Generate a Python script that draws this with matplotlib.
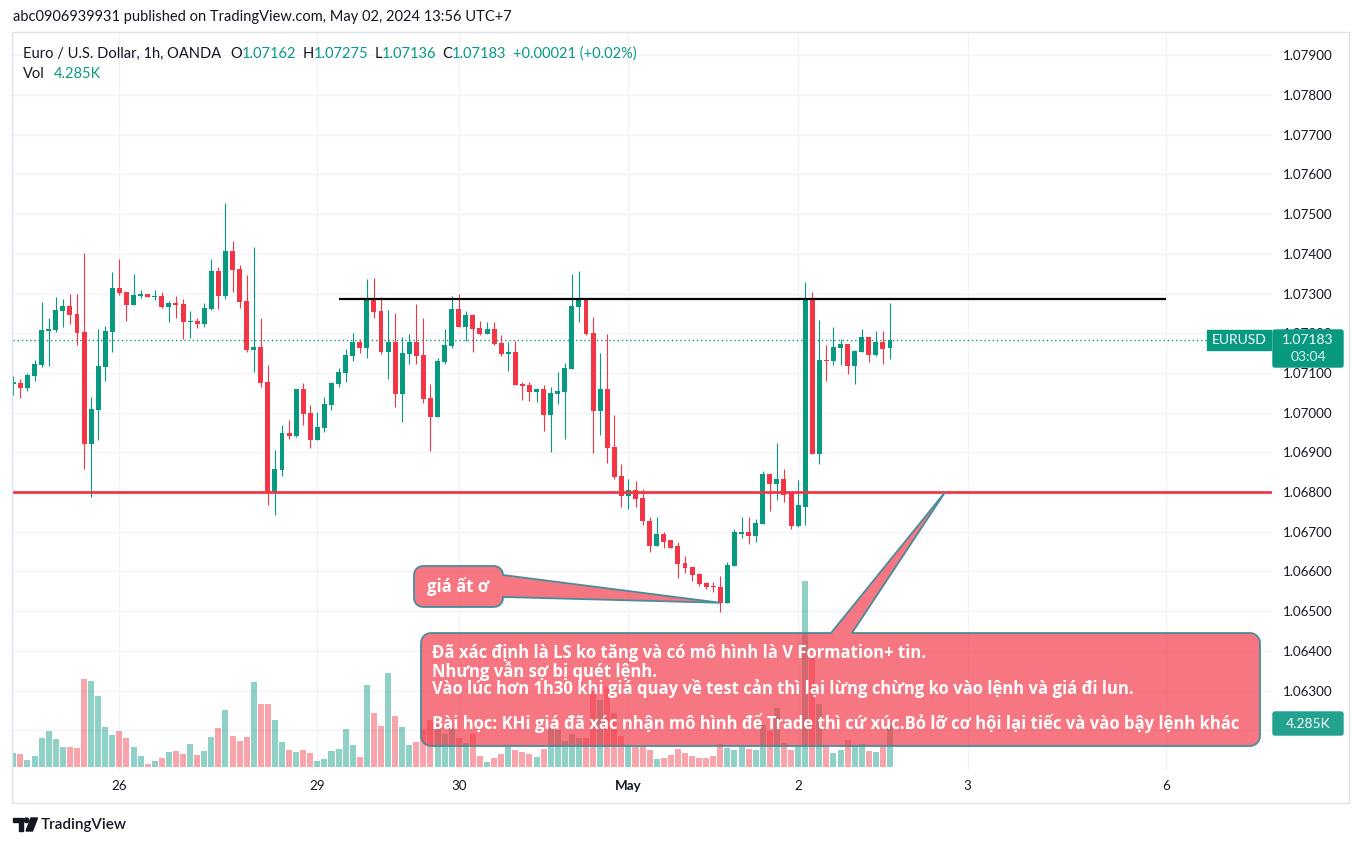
import matplotlib
matplotlib.use('Agg')
import matplotlib.pyplot as plt
from matplotlib.patches import Polygon, Rectangle, FancyBboxPatch, Circle
import numpy as np

# EUR/USD 1h candles (OANDA), Apr 25 -> May 2 2024
opens = [1.07073, 1.07074, 1.07063, 1.07093, 1.07120, 1.07206, 1.07208, 1.07256, 1.07268, 1.07248,
         1.07203, 1.06921, 1.07007, 1.07115, 1.07203, 1.07313, 1.07303, 1.07270, 1.07293, 1.07300,
         1.07291, 1.07293, 1.07265, 1.07275, 1.07273, 1.07228, 1.07230, 1.07223, 1.07260, 1.07356,
         1.07293, 1.07408, 1.07361, 1.07280, 1.07157, 1.07165, 1.07077, 1.06801, 1.06856, 1.06949,
         1.06941, 1.07059, 1.06999, 1.06931, 1.06962, 1.07019, 1.07072, 1.07100, 1.07142, 1.07177,
         1.07162, 1.07288, 1.07255, 1.07152, 1.07177, 1.07047, 1.07147, 1.07177, 1.07145, 1.07037,
         1.06989, 1.07127, 1.07167, 1.07260, 1.07215, 1.07245, 1.07213, 1.07197, 1.07210, 1.07175,
         1.07147, 1.07152, 1.07072, 1.07069, 1.07052, 1.07059, 1.06994, 1.07047, 1.07052, 1.07110,
         1.07265, 1.07283, 1.07200, 1.07004, 1.07059, 1.06914, 1.06841, 1.06791, 1.06806, 1.06786,
         1.06728, 1.06663, 1.06693, 1.06678, 1.06663, 1.06620, 1.06610, 1.06593, 1.06571, 1.06562,
         1.06561, 1.06521, 1.06613, 1.06695, 1.06700, 1.06690, 1.06720, 1.06846, 1.06821, 1.06833,
         1.06798, 1.06715, 1.06763, 1.07283, 1.06895, 1.07132, 1.07130, 1.07162, 1.07172, 1.07117,
         1.07152, 1.07190, 1.07145, 1.07177, 1.07162]
highs = [1.07092, 1.07085, 1.07101, 1.07132, 1.07278, 1.07238, 1.07290, 1.07285, 1.07298, 1.07300,
         1.07401, 1.07039, 1.07210, 1.07218, 1.07353, 1.07388, 1.07303, 1.07348, 1.07310, 1.07300,
         1.07308, 1.07305, 1.07280, 1.07293, 1.07285, 1.07255, 1.07238, 1.07275, 1.07388, 1.07368,
         1.07529, 1.07433, 1.07371, 1.07346, 1.07416, 1.07238, 1.07120, 1.06906, 1.06969, 1.06982,
         1.07059, 1.07074, 1.07019, 1.07002, 1.07039, 1.07077, 1.07112, 1.07160, 1.07200, 1.07185,
         1.07336, 1.07338, 1.07290, 1.07258, 1.07250, 1.07190, 1.07197, 1.07273, 1.07238, 1.07072,
         1.07137, 1.07210, 1.07293, 1.07298, 1.07255, 1.07248, 1.07230, 1.07228, 1.07228, 1.07195,
         1.07177, 1.07180, 1.07077, 1.07077, 1.07062, 1.07069, 1.07064, 1.07102, 1.07125, 1.07348,
         1.07356, 1.07285, 1.07240, 1.07150, 1.07197, 1.06994, 1.06871, 1.06833, 1.06828, 1.06808,
         1.06738, 1.06738, 1.06700, 1.06680, 1.06675, 1.06638, 1.06610, 1.06596, 1.06573, 1.06573,
         1.06588, 1.06623, 1.06708, 1.06738, 1.06738, 1.06731, 1.06854, 1.06846, 1.06924, 1.06859,
         1.06798, 1.06831, 1.07328, 1.07305, 1.07233, 1.07170, 1.07215, 1.07185, 1.07172, 1.07157,
         1.07210, 1.07190, 1.07205, 1.07205, 1.07275]
lows = [1.07045, 1.07038, 1.07054, 1.07080, 1.07115, 1.07118, 1.07203, 1.07216, 1.07223, 1.07171,
        1.06859, 1.06787, 1.06930, 1.07079, 1.07152, 1.07295, 1.07231, 1.07270, 1.07288, 1.07290,
        1.07283, 1.07263, 1.07228, 1.07238, 1.07185, 1.07187, 1.07213, 1.07215, 1.07258, 1.07260,
        1.07285, 1.07305, 1.07263, 1.07152, 1.07102, 1.07064, 1.06766, 1.06743, 1.06841, 1.06934,
        1.06939, 1.06969, 1.06911, 1.06931, 1.06951, 1.07007, 1.07064, 1.07077, 1.07130, 1.07150,
        1.07137, 1.07238, 1.07147, 1.07085, 1.07014, 1.06977, 1.07122, 1.07122, 1.07024, 1.06904,
        1.06989, 1.07122, 1.07162, 1.07215, 1.07180, 1.07152, 1.07195, 1.07197, 1.07170, 1.07142,
        1.07105, 1.07069, 1.07032, 1.07029, 1.07027, 1.06954, 1.06901, 1.07022, 1.06934, 1.07110,
        1.07228, 1.07195, 1.06899, 1.06944, 1.06874, 1.06833, 1.06763, 1.06756, 1.06763, 1.06718,
        1.06650, 1.06663, 1.06660, 1.06658, 1.06583, 1.06596, 1.06576, 1.06563, 1.06556, 1.06548,
        1.06498, 1.06521, 1.06613, 1.06683, 1.06670, 1.06675, 1.06720, 1.06751, 1.06781, 1.06776,
        1.06708, 1.06713, 1.06718, 1.06895, 1.06871, 1.07080, 1.07120, 1.07120, 1.07097, 1.07072,
        1.07152, 1.07127, 1.07142, 1.07122, 1.07136]
closes = [1.07074, 1.07063, 1.07095, 1.07122, 1.07208, 1.07210, 1.07258, 1.07268, 1.07246, 1.07201,
          1.06921, 1.07009, 1.07117, 1.07205, 1.07313, 1.07301, 1.07270, 1.07295, 1.07300, 1.07290,
          1.07293, 1.07265, 1.07275, 1.07270, 1.07228, 1.07230, 1.07223, 1.07263, 1.07356, 1.07293,
          1.07408, 1.07358, 1.07278, 1.07157, 1.07165, 1.07074, 1.06801, 1.06859, 1.06949, 1.06941,
          1.07059, 1.06997, 1.06931, 1.06964, 1.07022, 1.07074, 1.07102, 1.07145, 1.07177, 1.07162,
          1.07288, 1.07253, 1.07152, 1.07177, 1.07047, 1.07150, 1.07177, 1.07142, 1.07034, 1.06989,
          1.07130, 1.07170, 1.07260, 1.07215, 1.07245, 1.07210, 1.07197, 1.07210, 1.07172, 1.07147,
          1.07152, 1.07069, 1.07067, 1.07052, 1.07059, 1.06994, 1.07049, 1.07054, 1.07112, 1.07268,
          1.07283, 1.07197, 1.07004, 1.07059, 1.06911, 1.06838, 1.06791, 1.06806, 1.06783, 1.06726,
          1.06663, 1.06693, 1.06675, 1.06660, 1.06618, 1.06608, 1.06591, 1.06568, 1.06561, 1.06561,
          1.06521, 1.06616, 1.06698, 1.06700, 1.06690, 1.06723, 1.06846, 1.06821, 1.06833, 1.06793,
          1.06715, 1.06766, 1.07283, 1.06895, 1.07132, 1.07130, 1.07165, 1.07172, 1.07117, 1.07155,
          1.07190, 1.07145, 1.07177, 1.07160, 1.07183]
volumes_k = [1.41, 1.31, 0.67, 1.08, 2.90, 3.60, 2.79, 1.99, 1.99, 1.89,
             8.75, 8.55, 7.04, 4.01, 3.20, 3.60, 2.90, 1.99, 1.08, 0.27,
             0.57, 0.88, 1.48, 1.58, 1.28, 2.29, 1.18, 1.58, 3.00, 3.91,
             5.72, 3.10, 2.59, 3.00, 8.45, 6.33, 6.33, 4.71, 2.49, 1.68,
             1.48, 1.68, 1.38, 0.57, 0.77, 1.58, 1.78, 3.80, 2.19, 0.98,
             8.15, 5.42, 4.11, 9.36, 5.12, 4.01, 2.22, 2.53, 3.74, 4.65,
             4.14, 3.33, 3.84, 2.93, 2.42, 3.33, 1.11, 0.51, 0.91, 1.31,
             2.02, 1.72, 1.52, 1.31, 1.01, 1.82, 3.84, 3.64, 2.63, 3.33,
             2.93, 2.93, 7.57, 6.67, 7.98, 5.35, 3.13, 2.12, 2.02, 2.12,
             1.72, 0.81, 0.91, 1.21, 1.82, 1.41, 1.11, 0.91, 0.91, 1.11,
             2.32, 1.92, 1.72, 2.02, 1.82, 1.72, 4.14, 3.54, 5.86, 2.42,
             1.72, 2.00, 18.5, 10.9, 6.26, 2.00, 1.41, 1.72, 2.73, 2.22,
             2.32, 1.62, 1.52, 2.02, 4.285]

# day labels and their bar index
day_labels = ['26', '29', '30', 'May', '2', '3', '6']
day_index = [15, 43, 63, 87, 111, 135, 163]

support = 1.068
resistance = 1.07286
resistance_span = (46.1, 163)
note_low_tip = (100, 1.06521)
note_main_tip = (131.8, 1.068)

GREEN = '#089981'
RED = '#F23645'
TXT = '#131722'
NOTE_FONT = ['Open Sans', 'Noto Sans', 'DejaVu Sans']

plt.rcParams['font.family'] = ['Lato', 'Noto Sans', 'DejaVu Sans']

W, H = 1363, 846
fig = plt.figure(figsize=(W / 100, H / 100), dpi=100)


def px_rect(x0, y0, x1, y1):
    return [x0 / W, 1 - y1 / H, (x1 - x0) / W, (y1 - y0) / H]


ax = fig.add_axes(px_rect(13, 32, 1272, 770))
vax = ax.twinx()  # volume pane on its own scale
ppx = 39700.0  # pixels per 1.0 price
ax.set_xlim(-0.05, 178.03)
ax.set_ylim(support - 278 / ppx, support + 460 / ppx)

o = np.array(opens); h = np.array(highs); l = np.array(lows); c = np.array(closes)
x = np.arange(len(o))
up = c >= o
col = np.where(up, GREEN, RED)

ax.vlines(x, l, h, colors=col, lw=0.8, zorder=3)
body_h = np.maximum(np.abs(c - o), 1.2 / ppx)
ax.bar(x, body_h, bottom=np.minimum(o, c), width=0.7, color=col, lw=0, zorder=4)

yt = [round(1.062 + 0.001 * k, 3) for k in range(18)]
ax.set_yticks(yt)
ax.set_yticklabels(['' if v < 1.0625 else f'{v:.5f}' for v in yt])
ax.yaxis.set_ticks_position('right')
ax.set_xticks(day_index)
ax.set_xticklabels(day_labels)
ax.get_xticklabels()[3].set_fontweight('bold')
ax.tick_params(axis='both', length=0, labelsize=9.6, colors=TXT)
ax.tick_params(axis='y', pad=8, left=False, labelleft=False, right=False, labelright=True)
ax.tick_params(axis='x', pad=7)
ax.grid(True, color='#F0F3FA', lw=1, zorder=0)
for s in ax.spines.values():
    s.set_visible(False)

ax.axhline(support, color=RED, lw=2, zorder=5)
ax.hlines(resistance, *resistance_span, color='black', lw=1.6, zorder=5)
ax.hlines(c[-1], -0.05, 168.8, colors=GREEN, linestyles=(0, (1, 2)), lw=1, zorder=2)

vax.set_ylim(-0.3, 73.3)
vcol = [(0.031, 0.6, 0.506, 0.45) if u else (0.949, 0.212, 0.271, 0.45) for u in up]
vax.bar(x, volumes_k, width=0.85, color=vcol, lw=0, zorder=2)
vax.axis('off')

# overlay in pixel coords for texts, callouts, tags
ov = fig.add_axes([0, 0, 1, 1], zorder=5)
ov.set_xlim(0, W)
ov.set_ylim(H, 0)
ov.axis('off')
renderer = fig.canvas.get_renderer()


def to_px(pt):
    return tuple(ov.transData.inverted().transform(ax.transData.transform(pt)))


def callout(x0, y0, x1, y1, r, side, a, b, tip):
    pts = []

    def arc(cx, cy, t0, t1):
        for t in np.linspace(np.radians(t0), np.radians(t1), 8):
            pts.append((cx + r * np.cos(t), cy + r * np.sin(t)))
    arc(x0 + r, y0 + r, 180, 270)
    if side == 'top':
        pts.extend([(a, y0), tip, (b, y0)])
    arc(x1 - r, y0 + r, 270, 360)
    if side == 'right':
        pts.extend([(x1, a), tip, (x1, b)])
    arc(x1 - r, y1 - r, 0, 90)
    arc(x0 + r, y1 - r, 90, 180)
    return Polygon(pts, closed=True, facecolor=(0.949, 0.212, 0.271, 0.68),
                   edgecolor='#4A8C9C', lw=1.3, zorder=6)


def text_row(x0, y, parts, size):
    xx = x0
    for t, cc, gap in parts:
        txt = ov.text(xx, y, t, color=cc, fontsize=size, va='center')
        xx += txt.get_window_extent(renderer).width + gap


ov.add_patch(callout(414, 566, 503, 607, 9, 'right', 575, 597, to_px(note_low_tip)))
ov.text(427, 587, 'giá ất ơ', color='white', fontsize=12, fontweight='bold',
        family=NOTE_FONT, va='center', zorder=7)

ov.add_patch(callout(421, 633, 1260, 746, 10, 'top', 831, 852, to_px(note_main_tip)))
note_lines = [
    ('Đã xác định là LS ko tăng và có mô hình là V Formation+ tin.', 653),
    ('Nhưng vẫn sợ bị quét lệnh.', 671),
    ('Vào lúc hơn 1h30 khi giá quay về test cản thì lại lừng chừng ko vào lệnh và giá đi lun.', 688),
    ('Bài học: KHi giá đã xác nhận mô hình để Trade thì cứ xúc.Bỏ lỡ cơ hội lại tiếc và vào bậy lệnh khác', 723),
]
for t, yy in note_lines:
    ov.text(432, yy, t, color='white', fontsize=12, fontweight='bold',
            family=NOTE_FONT, va='center', zorder=7)

# header texts
ov.text(13, 17, 'abc0906939931 published on TradingView.com, May 02, 2024 13:56 UTC+7',
        color=TXT, fontsize=10.5, va='center')
text_row(23, 54, [('Euro / U.S. Dollar, 1h, OANDA', TXT, 9), ('O', TXT, 0), ('1.07162', GREEN, 6),
                  ('H', TXT, 0), ('1.07275', GREEN, 6), ('L', TXT, 0), ('1.07136', GREEN, 6),
                  ('C', TXT, 0), ('1.07183', GREEN, 6), ('+0.00021 (+0.02%)', GREEN, 0)], 10.5)
text_row(23, 74, [('Vol', TXT, 9), ('4.285K', GREEN, 0)], 10.5)

# price / volume tags
ov.add_patch(Rectangle((1207, 330), 64, 20, color=GREEN, zorder=6))
ov.text(1239, 340, 'EURUSD', color='white', fontsize=10, ha='center', va='center', zorder=7)
ov.add_patch(FancyBboxPatch((1273, 330), 70, 37, boxstyle='round,pad=0,rounding_size=2',
                            color=GREEN, zorder=6))
ov.text(1308, 340, f'{c[-1]:.5f}', color='white', fontsize=10, ha='center', va='center', zorder=7)
ov.text(1308, 357, '03:04', color='white', alpha=0.85, fontsize=10, ha='center', va='center', zorder=7)
ov.add_patch(FancyBboxPatch((1273, 712), 70, 23, boxstyle='round,pad=0,rounding_size=2',
                            color='#22A28F', zorder=6))
ov.text(1308, 723.5, f'{volumes_k[-1]:.3f}K', color='white', fontsize=10, ha='center',
        va='center', zorder=7)

# chart frame
ov.add_patch(Rectangle((12, 32), 1337, 771, fill=False, edgecolor='#E0E3EB', lw=1))

# TradingView logo
ov.add_patch(Polygon([(13, 818), (23, 818), (23, 831), (18.5, 831), (18.5, 822.5), (13, 822.5)],
                     color=TXT))
ov.add_patch(Circle((26.5, 820.3), 2.3, color=TXT))
ov.add_patch(Polygon([(31, 818), (37.5, 818), (32.5, 831), (26, 831)], color=TXT))
ov.text(41, 825, 'TradingView', color=TXT, fontsize=11, fontweight='semibold', va='center')

fig.savefig('out.png', dpi=100, facecolor='white')
